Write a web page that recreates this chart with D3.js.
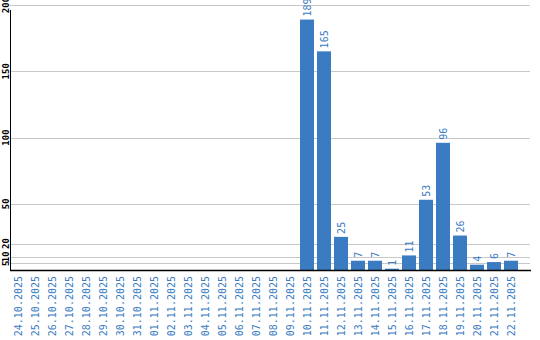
<!DOCTYPE html>
<html><head><meta charset="utf-8">
<script src="https://cdn.jsdelivr.net/npm/d3@7/dist/d3.min.js"></script>
<style>body{margin:0;background:#fff;}svg{display:block;}</style>
</head><body><svg id="c" width="540" height="340"></svg>
<script>
const categories = ["24.10.2025","25.10.2025","26.10.2025","27.10.2025","28.10.2025","29.10.2025","30.10.2025","31.10.2025","01.11.2025","02.11.2025","03.11.2025","04.11.2025","05.11.2025","06.11.2025","07.11.2025","08.11.2025","09.11.2025","10.11.2025","11.11.2025","12.11.2025","13.11.2025","14.11.2025","15.11.2025","16.11.2025","17.11.2025","18.11.2025","19.11.2025","20.11.2025","21.11.2025","22.11.2025"];
const values = [0,0,0,0,0,0,0,0,0,0,0,0,0,0,0,0,0,189,165,25,7,7,1,11,53,96,26,4,6,7];
const yTicks = [5,10,20,50,100,150,200];

const svg = d3.select("#c");
const blue = "#3a7bc1";
const font = "DejaVu Sans Mono";
const x = d3.scaleBand().domain(categories).range([9.5,519.5]).paddingInner(3/17).paddingOuter(1.5/17);
const y = d3.scaleLinear().domain([0,200]).range([270,5]);

// gridlines
svg.append("g").selectAll("line").data(yTicks).join("line")
  .attr("x1",10).attr("x2",530)
  .attr("y1",d=>Math.round(y(d))+0.5).attr("y2",d=>Math.round(y(d))+0.5)
  .attr("stroke","#c8c8c8").attr("stroke-width",1);

// y labels
svg.append("g").selectAll("text").data(yTicks).join("text")
  .attr("transform",d=>`translate(8.5,${y(d)}) rotate(-90)`)
  .attr("text-anchor","middle")
  .attr("font-family",font).attr("font-size",9).attr("font-weight","bold")
  .attr("fill","#000").text(d=>d);

// bars
svg.append("g").selectAll("rect").data(values.map((v,i)=>({c:categories[i],v})).filter(d=>d.v>0)).join("rect")
  .attr("x",d=>x(d.c)).attr("width",x.bandwidth())
  .attr("y",d=>y(d.v)).attr("height",d=>y(0)-y(d.v))
  .attr("fill",blue);

// value labels
svg.append("g").selectAll("text").data(values.map((v,i)=>({c:categories[i],v})).filter(d=>d.v>0)).join("text")
  .attr("transform",d=>`translate(${x(d.c)+x.bandwidth()/2+3.5},${y(d.v)-3}) rotate(-90)`)
  .attr("text-anchor","start")
  .attr("font-family",font).attr("font-size",10)
  .attr("fill",blue).text(d=>d.v);

// axes lines
svg.append("line").attr("x1",10.5).attr("x2",10.5).attr("y1",10).attr("y2",271).attr("stroke","#000").attr("stroke-width",1);
svg.append("line").attr("x1",10).attr("x2",531).attr("y1",270.5).attr("y2",270.5).attr("stroke","#000").attr("stroke-width",1.5);

// x labels
svg.append("g").selectAll("text").data(categories).join("text")
  .attr("transform",d=>`translate(${x(d)+x.bandwidth()/2+3.5},276) rotate(-90)`)
  .attr("text-anchor","end")
  .attr("font-family",font).attr("font-size",10)
  .attr("fill",blue).text(d=>d);
</script></body></html>
